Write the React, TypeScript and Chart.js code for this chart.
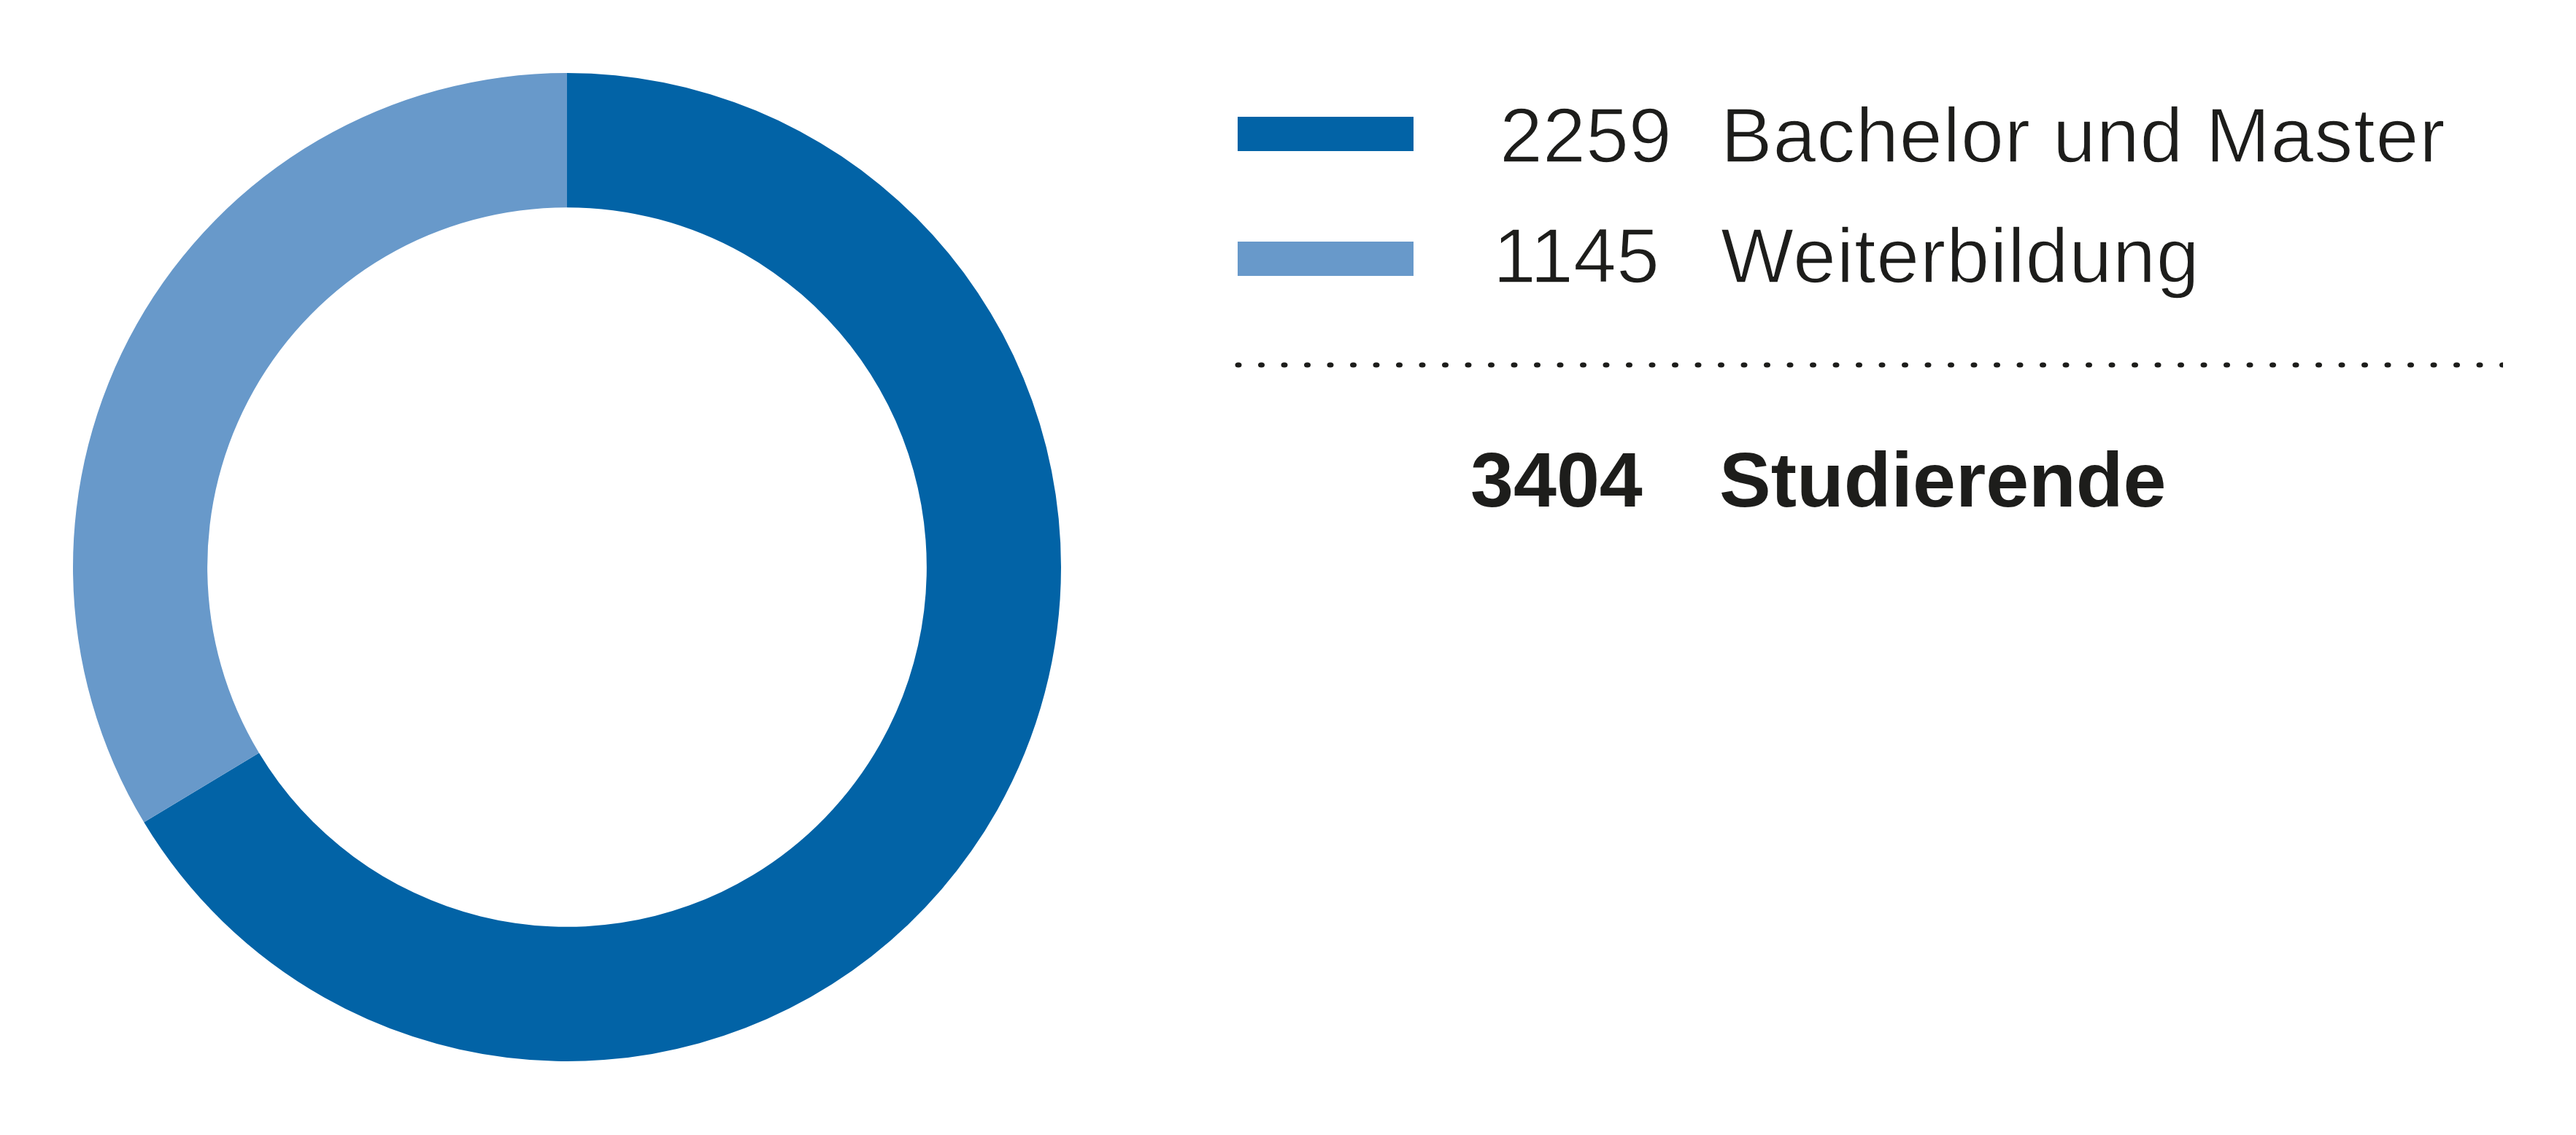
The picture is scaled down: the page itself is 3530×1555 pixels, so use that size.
import React, { useEffect, useRef } from "react";
import { Chart, registerables } from "chart.js";

Chart.register(...registerables);

const categories: string[] = ["Bachelor und Master", "Weiterbildung"];
const values: number[] = [2259, 1145];
const sliceColors: string[] = ["#0263A6", "#6899CA"];
const totalLabel = "Studierende";

const W = 3530;
const H = 1555;
const TEXT = "#1D1D1B";
const FONT = '"Liberation Sans", Arial, Helvetica, sans-serif';

function thinText(ctx: CanvasRenderingContext2D, s: string, x: number, y: number) {
  ctx.fillStyle = TEXT;
  ctx.fillText(s, x, y);
  ctx.strokeStyle = "#FFFFFF";
  ctx.lineWidth = 1.5;
  ctx.lineJoin = "round";
  ctx.strokeText(s, x, y);
}

const legendPlugin = {
  id: "sideLegend",
  afterDraw(chart: any) {
    const ctx: CanvasRenderingContext2D = chart.ctx;
    const ds = chart.data.datasets[0];
    const labels: string[] = chart.data.labels;
    const data: number[] = ds.data;
    const colors: string[] = ds.backgroundColor;
    ctx.save();
    const boxTops = [160, 331];
    const baselines = [222, 387];
    const numLeft = [2055, 2046];
    labels.forEach((lab, i) => {
      ctx.fillStyle = colors[i];
      ctx.fillRect(1696, boxTops[i], 241, 47);
      ctx.font = `106px ${FONT}`;
      ctx.textBaseline = "alphabetic";
      ctx.textAlign = "left";
      (ctx as any).letterSpacing = "0px";
      thinText(ctx, String(data[i]), numLeft[i], baselines[i]);
      (ctx as any).letterSpacing = "0.8px";
      thinText(ctx, lab, 2358, baselines[i]);
      (ctx as any).letterSpacing = "0px";
    });
    // dotted separator
    ctx.fillStyle = "#1D1D1B";
    ctx.beginPath();
    ctx.rect(1680, 480, 3430 - 1680, 40);
    ctx.clip();
    for (let i = 0; i < 56; i++) {
      const x = 1697 + i * 31.5;
      ctx.beginPath();
      ctx.ellipse(x, 500, 4.5, 3.5, 0, 0, Math.PI * 2);
      ctx.fill();
    }
    ctx.restore();
    ctx.save();
    const total = data.reduce((a, b) => a + b, 0);
    ctx.fillStyle = TEXT;
    ctx.font = `bold 106px ${FONT}`;
    ctx.textBaseline = "alphabetic";
    ctx.textAlign = "left";
    ctx.fillText(String(total), 2015, 694);
    ctx.fillText(totalLabel, 2356, 694);
    ctx.restore();
  },
};

const bgPlugin = {
  id: "bg",
  beforeDraw(chart: any) {
    const ctx = chart.ctx;
    ctx.save();
    ctx.fillStyle = "#FFFFFF";
    ctx.fillRect(0, 0, chart.width, chart.height);
    ctx.restore();
  },
};

export default function App() {
  const ref = useRef<HTMLCanvasElement | null>(null);
  useEffect(() => {
    if (!ref.current) return;
    const chart = new Chart(ref.current, {
      type: "doughnut",
      data: {
        labels: categories,
        datasets: [
          {
            data: values,
            backgroundColor: sliceColors,
            borderWidth: 0,
          },
        ],
      },
      options: {
        responsive: false,
        animation: false,
        cutout: "72.8%",
        layout: { padding: { left: 100, top: 100, right: W - 1454, bottom: H - 1454 } },
        plugins: {
          legend: { display: false },
          tooltip: { enabled: false },
        },
      },
      plugins: [bgPlugin, legendPlugin],
    });
    return () => chart.destroy();
  }, []);
  return (
    <div style={{ position: "absolute", left: 0, top: 0, width: W, height: H, background: "#fff" }}>
      <canvas ref={ref} width={W} height={H} style={{ width: W, height: H, display: "block" }} />
    </div>
  );
}
